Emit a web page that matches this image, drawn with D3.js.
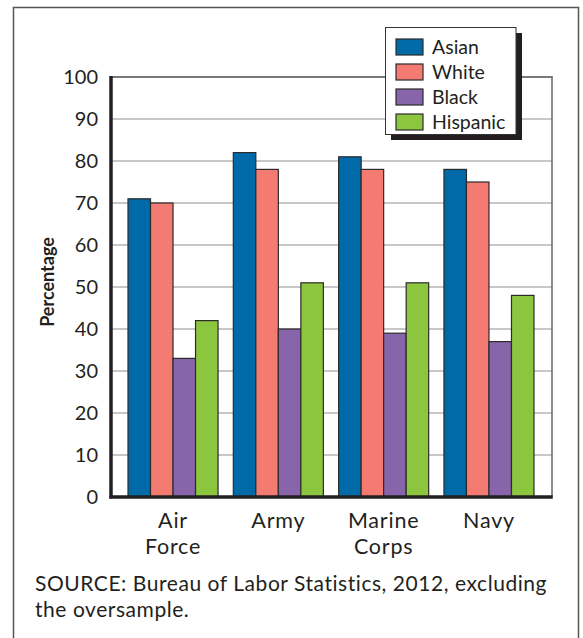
<!DOCTYPE html>
<html>
<head>
<meta charset="utf-8">
<script src="https://cdn.jsdelivr.net/npm/d3@7/dist/d3.min.js"></script>
<style>
  html, body { margin: 0; padding: 0; background: #fff; }
  svg { display: block; }
  text { font-family: Lato, "Open Sans", sans-serif; fill: #231f20; }
</style>
</head>
<body>
<svg id="chart" width="583" height="638"></svg>
<script>
const categories = [["Air", "Force"], ["Army"], ["Marine", "Corps"], ["Navy"]];
const categoryKeys = ["Air Force", "Army", "Marine Corps", "Navy"];
const seriesNames = ["Asian", "White", "Black", "Hispanic"];
const asian = [71, 82, 81, 78];
const white = [70, 78, 78, 75];
const black = [33, 40, 39, 37];
const hispanic = [42, 51, 51, 48];
const yTicks = [0, 10, 20, 30, 40, 50, 60, 70, 80, 90, 100];
const colors = ["#0069a8", "#f37b71", "#8864ab", "#8cc63f"];
const yTitle = "Percentage";
const sourceLines = ["SOURCE: Bureau of Labor Statistics, 2012, excluding", "the oversample."];

const seriesValues = [asian, white, black, hispanic];
const svg = d3.select("#chart");

// outer frame
svg.append("rect").attr("x", 13.5).attr("y", 7.5).attr("width", 565).attr("height", 660)
  .attr("fill", "none").attr("stroke", "#555").attr("stroke-width", 1.5);

const plot = { left: 111, right: 552, top: 77, bottom: 497 };
const y = d3.scaleLinear().domain([0, 100]).range([plot.bottom, plot.top]);
const x0 = d3.scaleBand().domain(categoryKeys).range([128, 534]).paddingInner(0.145);
const x1 = d3.scaleBand().domain(seriesNames).range([0, x0.bandwidth()]);

// gridlines
svg.append("g").selectAll("line").data(yTicks.filter(t => t > 0 && t < 100)).join("line")
  .attr("x1", plot.left).attr("x2", plot.right)
  .attr("y1", d => y(d)).attr("y2", d => y(d))
  .attr("stroke", "#b5b5b5").attr("stroke-width", 1.5);

// top and right border
svg.append("line").attr("x1", plot.left).attr("x2", plot.right + 0.75)
  .attr("y1", y(100)).attr("y2", y(100)).attr("stroke", "#4d4d4d").attr("stroke-width", 1.5);
svg.append("line").attr("x1", plot.right).attr("x2", plot.right)
  .attr("y1", y(100)).attr("y2", plot.bottom).attr("stroke", "#666").attr("stroke-width", 1.5);

// bars
const groups = svg.append("g").selectAll("g").data(categoryKeys).join("g")
  .attr("transform", d => `translate(${x0(d)},0)`);
groups.selectAll("rect").data((d, i) => seriesNames.map((s, j) => ({ s, j, v: seriesValues[j][i] })))
  .join("rect")
  .attr("x", d => x1(d.s))
  .attr("width", x1.bandwidth())
  .attr("y", d => y(d.v))
  .attr("height", d => y(0) - y(d.v))
  .attr("fill", d => colors[d.j])
  .attr("stroke", "#2b2b2b").attr("stroke-width", 1.2);

// y axis
const yAxis = d3.axisLeft(y).tickValues(yTicks).tickSize(0).tickPadding(13);
const yg = svg.append("g").attr("transform", `translate(${plot.left},0)`).call(yAxis);
yg.select(".domain").remove();
yg.attr("font-family", null).attr("font-size", null);
yg.selectAll("text").style("font-size", "20px").attr("fill", "#231f20");
svg.append("line").attr("x1", plot.left).attr("x2", plot.left)
  .attr("y1", y(100) - 1).attr("y2", plot.bottom + 1.5).attr("stroke", "#231f20").attr("stroke-width", 3.5);
svg.append("line").attr("x1", plot.left - 1.5).attr("x2", plot.right + 0.75)
  .attr("y1", plot.bottom).attr("y2", plot.bottom).attr("stroke", "#231f20").attr("stroke-width", 3.5);

// x category labels
const xl = svg.append("g").selectAll("text").data(categoryKeys).join("text")
  .attr("x", d => x0(d) + x0.bandwidth() / 2)
  .attr("y", 528)
  .attr("text-anchor", "middle")
  .style("font-size", "21.5px")
  .style("letter-spacing", "0.8px");
xl.selectAll("tspan").data((d, i) => categories[i]).join("tspan")
  .attr("x", function () { return d3.select(this.parentNode).attr("x"); })
  .attr("dy", (d, k) => k === 0 ? 0 : 26)
  .text(d => d);

// y title
svg.append("text").attr("transform", `translate(54,282) rotate(-90)`)
  .attr("text-anchor", "middle").style("font-size", "18px").style("font-weight", "bold")
  .text(yTitle);

// legend
const lg = svg.append("g");
lg.append("rect").attr("x", 391).attr("y", 33).attr("width", 131).attr("height", 107).attr("fill", "#231f20");
lg.append("rect").attr("x", 385.5).attr("y", 27.5).attr("width", 130.5).attr("height", 107)
  .attr("fill", "#fff").attr("stroke", "#333").attr("stroke-width", 1);
const items = lg.selectAll("g.item").data(seriesNames).join("g").attr("class", "item")
  .attr("transform", (d, i) => `translate(396,${47 + i * 25})`);
items.append("rect").attr("x", 0).attr("y", -8).attr("width", 27).attr("height", 16)
  .attr("fill", (d, i) => colors[i]).attr("stroke", "#2b2b2b").attr("stroke-width", 1.2);
items.append("text").attr("x", 36).attr("y", 6.5).style("font-size", "19.5px").text(d => d);

// source (one text element, two lines)
const src = svg.append("text").attr("x", 35).attr("y", 591).style("font-size", "21px")
  .style("letter-spacing", "0.55px");
src.selectAll("tspan").data(sourceLines).join("tspan")
  .attr("x", 35).attr("dy", (d, i) => i === 0 ? 0 : 25.5).text(d => d);
</script>
</body>
</html>
